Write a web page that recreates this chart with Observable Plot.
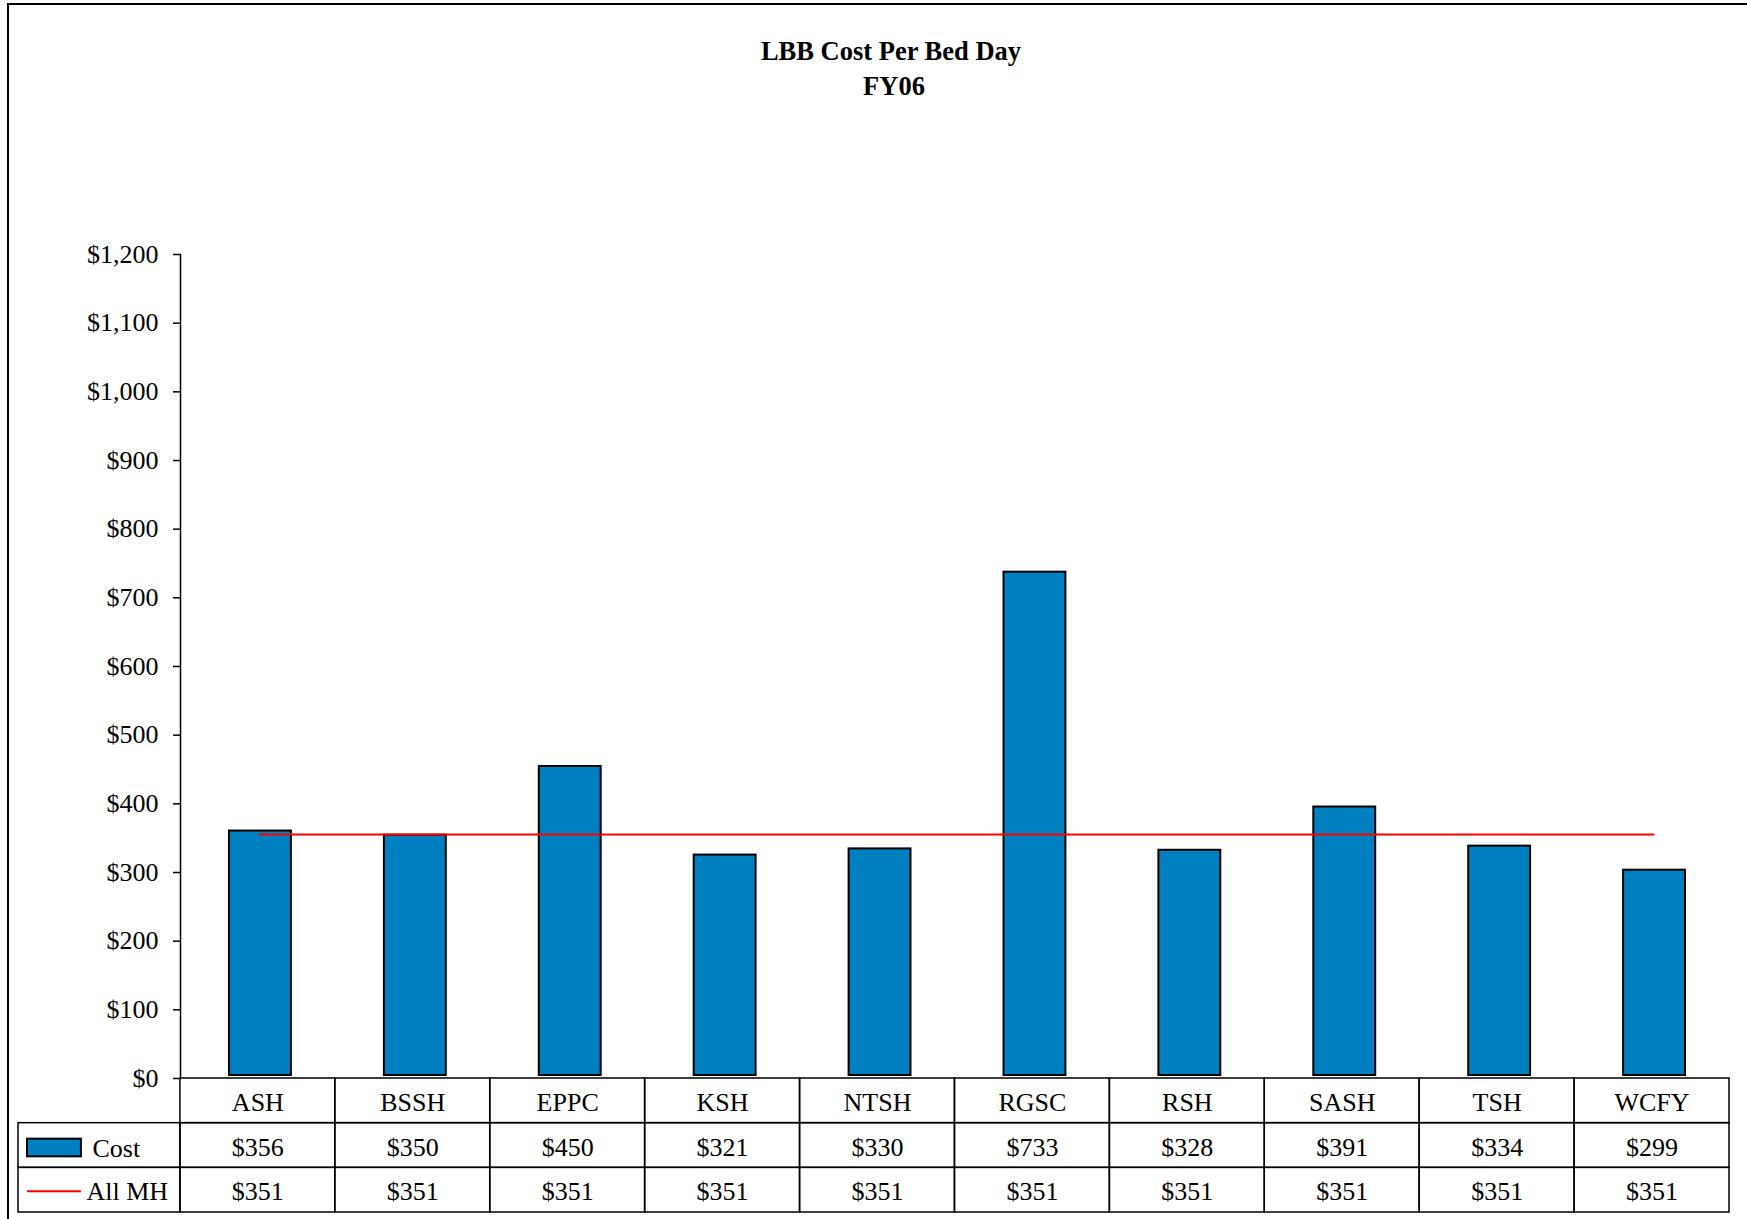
<!DOCTYPE html>
<html>
<head>
<meta charset="utf-8">
<script src="https://cdn.jsdelivr.net/npm/d3@7"></script>
<script src="https://cdn.jsdelivr.net/npm/@observablehq/plot@0.6"></script>
<style>
  body { margin: 0; background: #fff; }
  #wrap { position: relative; width: 1747px; height: 1219px; overflow: hidden; font-family: "Liberation Serif", "Times New Roman", serif; color: #000; }
  #border { position: absolute; left: 7px; top: 3px; right: -10px; bottom: -10px; border-left: 2px solid #000; border-top: 2px solid #000; }
  .title { position: absolute; left: 0; width: 1782px; text-align: center; font-weight: bold; font-size: 26.5px; line-height: 33px; }
  #chart { position: absolute; left: 0; top: 110px; width: 1747px; }
  #table { position: absolute; left: 0; top: 1078px; width: 1747px; }
</style>
</head>
<body>
<div id="wrap">
  <div id="border"></div>
  <div class="title" style="top:35px">LBB Cost Per Bed Day</div>
  <div class="title" style="top:70px;left:3px">FY06</div>
  <div id="chart"></div>
  <div id="table"></div>
</div>
<script>
const categories = ["ASH", "BSSH", "EPPC", "KSH", "NTSH", "RGSC", "RSH", "SASH", "TSH", "WCFY"];
const cost = [356, 350, 450, 321, 330, 733, 328, 391, 334, 299];
const allMH = [351, 351, 351, 351, 351, 351, 351, 351, 351, 351];
const yTicks = [0, 100, 200, 300, 400, 500, 600, 700, 800, 900, 1000, 1100, 1200];
const seriesNames = ["Cost", "All MH"];

const fmt = d3.format("$,.0f");
const data = categories.map((c, i) => ({cat: c, cost: cost[i], mh: allMH[i]}));
const fontStyle = {fontFamily: "'Liberation Serif', 'Times New Roman', serif", fontSize: "26px", color: "#000", background: "transparent", overflow: "visible", maxWidth: "none"};

const chart = Plot.plot({
  width: 1747, height: 968,
  marginTop: 144, marginBottom: 0, marginLeft: 180, marginRight: 18,
  style: fontStyle,
  x: {domain: categories, padding: 0, round: false, axis: null},
  y: {domain: [0, 1200], axis: null},
  marks: [
    Plot.frame({anchor: "left", stroke: "#000", strokeWidth: 1.5}),
    Plot.axisY({ticks: yTicks, tickFormat: fmt, tickSize: 7, tickPadding: 15, label: null, strokeWidth: 1.5, fill: "#000"}),
    Plot.barY(data, {x: "cat", y: "cost", fill: "#0080c0", stroke: "#000", strokeWidth: 2, insetLeft: 49, insetRight: 44, dy: -3}),
    Plot.lineY(data, {x: "cat", y: "mh", stroke: "#ff0000", strokeWidth: 2, dx: 1.5, dy: -3})
  ]
});
document.getElementById("chart").append(chart);

// data table below the chart
const rows = ["head", ...seriesNames];
const tableCells = [];
categories.forEach((c, i) => {
  tableCells.push({col: c, row: "head", label: c});
  tableCells.push({col: c, row: "Cost", label: fmt(cost[i])});
  tableCells.push({col: c, row: "All MH", label: fmt(allMH[i])});
});

const table = Plot.plot({
  width: 1747, height: 141,
  marginTop: 0, marginBottom: 7, marginLeft: 25, marginRight: 18,
  style: fontStyle,
  x: {domain: ["legend", ...categories], padding: 0, round: false, axis: null},
  y: {domain: rows, padding: 0, round: false, axis: null},
  marks: [
    Plot.cell(tableCells, {x: "col", y: "row", fill: "none", stroke: "#000", strokeWidth: 1.5}),
    Plot.cell(seriesNames, {x: () => "legend", y: d => d, fill: "none", stroke: "#000", strokeWidth: 1.5, insetLeft: -7}),
    Plot.text(tableCells, {x: "col", y: "row", text: "label", fill: "#000", dy: 2}),
    Plot.cell(["Cost"], {x: () => "legend", y: d => d, fill: "#0080c0", stroke: "#000", strokeWidth: 2, insetLeft: 2, insetRight: 99, insetTop: 16, insetBottom: 11}),
    Plot.tickY(["All MH"], {x: () => "legend", y: d => d, stroke: "#ff0000", strokeWidth: 2, insetLeft: 2, insetRight: 99, dy: 1}),
    Plot.text(["Cost"], {x: () => "legend", y: d => d, text: d => d, textAnchor: "start", dx: -10.5, dy: 3, fill: "#000"}),
    Plot.text(["All MH"], {x: () => "legend", y: d => d, text: d => d, textAnchor: "start", dx: -16.5, dy: 2, fill: "#000"})
  ]
});
document.getElementById("table").append(table);
</script>
</body>
</html>
